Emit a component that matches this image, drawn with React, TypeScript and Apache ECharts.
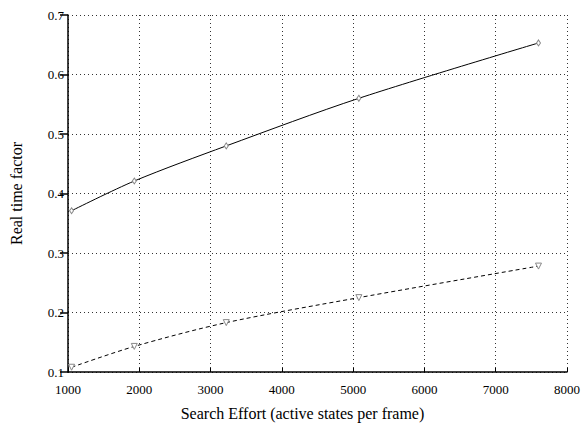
import React, { useEffect, useRef } from "react";
import * as echarts from "echarts";

const effortUpper: number[] = [1050, 1930, 3220, 5080, 7600];
const rtfUpper: number[] = [0.371, 0.421, 0.48, 0.56, 0.653];
const effortLower: number[] = [1050, 1930, 3220, 5080, 7600];
const rtfLower: number[] = [0.108, 0.143, 0.183, 0.225, 0.278];

const xTitle = "Search Effort (active states per frame)";
const yTitle = "Real time factor";

export default function App() {
  const ref = useRef<HTMLDivElement>(null);
  useEffect(() => {
    if (!ref.current) return;
    const chart = echarts.init(ref.current, undefined, { renderer: "svg" });
    const font = "Times New Roman, Liberation Serif, DejaVu Serif, serif";
    const gridLine = { show: true, lineStyle: { type: [1, 3] as any, color: "#333", width: 1 } };
    chart.setOption({
      animation: false,
      backgroundColor: "#fff",
      textStyle: { fontFamily: font },
      grid: { left: 62, right: 12, top: 15, bottom: 52, containLabel: false },
      xAxis: {
        type: "value",
        min: 1000,
        max: 8000,
        interval: 1000,
        name: xTitle,
        nameLocation: "middle",
        nameGap: 33,
        nameTextStyle: { fontFamily: font, fontSize: 16, color: "#000", padding: [0, 30, 0, 0] },
        axisLine: { show: true, onZero: false, lineStyle: { color: "#000", width: 1.5 } },
        axisTick: { show: true, inside: true, length: 4, lineStyle: { color: "#000" } },
        axisLabel: { fontFamily: font, fontSize: 13, color: "#000", margin: 11, formatter: (v: number) => String(v) },
        splitLine: gridLine,
      },
      yAxis: {
        type: "value",
        min: 0.1,
        max: 0.7,
        interval: 0.1,
        name: yTitle,
        nameLocation: "middle",
        nameGap: 44,
        nameTextStyle: { fontFamily: font, fontSize: 16, color: "#000" },
        axisLine: { show: true, onZero: false, lineStyle: { color: "#000", width: 1.5 } },
        axisTick: { show: true, length: 8, lineStyle: { color: "#000", width: 1.5 } },
        axisLabel: { fontFamily: font, fontSize: 13, color: "#000", margin: 4, formatter: (v: number) => v.toFixed(1) },
        splitLine: gridLine,
      },
      series: [
        {
          type: "line",
          data: effortUpper.map((x, i) => [x, rtfUpper[i]]),
          smooth: 0.3,
          symbol: "diamond",
          symbolSize: [4, 6],
          lineStyle: { color: "#000", width: 1 },
          itemStyle: { color: "#fff", borderColor: "#888", borderWidth: 1 },
        },
        {
          type: "line",
          data: effortLower.map((x, i) => [x, rtfLower[i]]),
          smooth: 0.3,
          symbol: "triangle",
          symbolRotate: 180,
          symbolSize: 6,
          lineStyle: { color: "#000", width: 1, type: [4, 3] as any },
          itemStyle: { color: "#fff", borderColor: "#888", borderWidth: 1 },
        },
      ],
    });
    return () => chart.dispose();
  }, []);
  return <div ref={ref} style={{ width: 583, height: 426, position: "absolute", left: 0, top: 0 }} />;
}
